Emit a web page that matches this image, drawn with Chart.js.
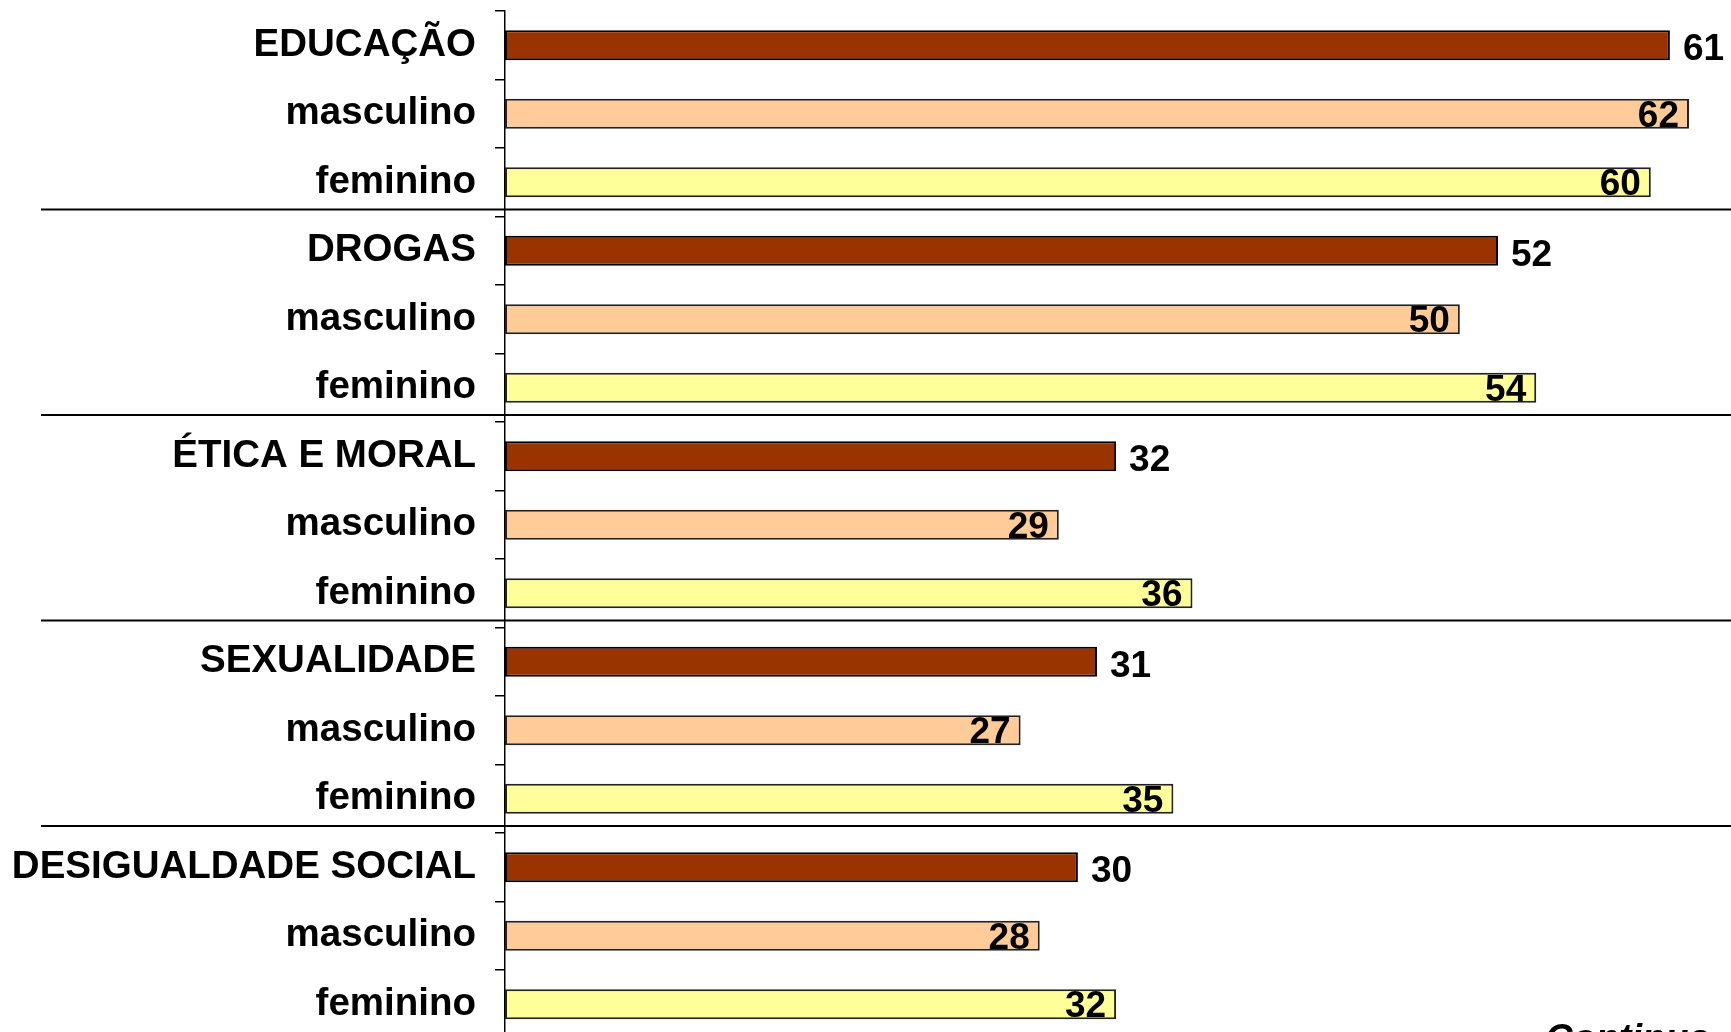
<!DOCTYPE html>
<html>
<head>
<meta charset="utf-8">
<script src="https://cdn.jsdelivr.net/npm/chart.js@4/dist/chart.umd.min.js"></script>
<style>
    html, body { margin: 0; padding: 0; background: #fff; overflow: hidden; }
    #wrap { width: 1731px; height: 1042px; }
</style>
</head>
<body>
<div id="wrap"><canvas id="chart-bar"></canvas></div>
<script>
// data
const topics = ["EDUCAÇÃO", "DROGAS", "ÉTICA E MORAL", "SEXUALIDADE", "DESIGUALDADE SOCIAL"];
const subLabels = ["masculino", "feminino"];
const totals = [61, 52, 32, 31, 30];
const masculino = [62, 50, 29, 27, 28];
const feminino = [60, 54, 36, 35, 32];

const colors = ['#993300', '#FFCC99', '#FFFF99'];
const font = '"Liberation Sans", Arial, sans-serif';

// build 15 rows: topic, masculino, feminino
const labels = [];
const values = [];
const rowKind = [];
topics.forEach((t, i) => {
    labels.push(t, subLabels[0], subLabels[1]);
    values.push(totals[i], masculino[i], feminino[i]);
    rowKind.push(0, 1, 2);
});

// value labels + group separators
const extras = {
    id: 'extras',
    afterDatasetsDraw(chart) {
        const c = chart.ctx;
        const y = chart.scales.y;
        const area = chart.chartArea;
        const meta = chart.getDatasetMeta(0);

        c.save();
        c.fillStyle = '#000';
        c.font = 'bold 37px ' + font;
        c.textBaseline = 'middle';
        meta.data.forEach((bar, i) => {
            if (rowKind[i] === 0) {
                c.textAlign = 'left';
                c.fillText(values[i], bar.x + 13, bar.y + 5);
            } else {
                c.textAlign = 'right';
                c.fillText(values[i], bar.x - 10, bar.y + 3);
            }
        });

        // lines between the topic groups
        c.strokeStyle = '#000';
        c.lineWidth = 2;
        for (let g = 1; g < topics.length; g++) {
            const yy = (y.getPixelForValue(g * 3 - 1) + y.getPixelForValue(g * 3)) / 2 - 7;
            c.beginPath();
            c.moveTo(41, yy);
            c.lineTo(area.right, yy);
            c.stroke();
        }

        // cut-off footer text
        c.font = 'italic bold 38px ' + font;
        c.textAlign = 'left';
        c.textBaseline = 'top';
        c.fillText('Continua', 1545, 1022);
        c.restore();
    }
};

const chartbar = document.getElementById('chart-bar');

new Chart(chartbar, {
    type: 'bar',
    data: {
        labels: labels,
        datasets: [{
            data: values,
            backgroundColor: rowKind.map(k => colors[k]),
            borderColor: rowKind.map(k => k === 0 ? '#000' : '#222'),
            borderWidth: 2,
            borderSkipped: false,
            barPercentage: 0.44,
            categoryPercentage: 1
        }]
    },

    options: {
        indexAxis: 'y',
        responsive: true,
        maintainAspectRatio: false,
        animation: false,
        devicePixelRatio: 1,
        layout: {
            padding: { top: 11, bottom: 3.5, left: 0, right: 0 }
        },
        scales: {
            x: {
                display: false,
                min: 0,
                max: 64.2
            },
            y: {
                afterFit(scale) {
                    scale.width = 505;
                    scale.paddingTop = 0;
                    scale.paddingBottom = 0;
                },
                grid: {
                    offset: true,
                    drawOnChartArea: false,
                    tickLength: 10,
                    color: '#000',
                    lineWidth: 1.5
                },
                border: {
                    color: '#000',
                    width: 1.5
                },
                ticks: {
                    color: '#000',
                    padding: 19,
                    font: {
                        family: font,
                        weight: 'bold',
                        size: 38.5
                    }
                }
            }
        },
        plugins: {
            legend: { display: false },
            tooltip: { enabled: false }
        }
    },
    plugins: [extras]
});
</script>
</body>
</html>
